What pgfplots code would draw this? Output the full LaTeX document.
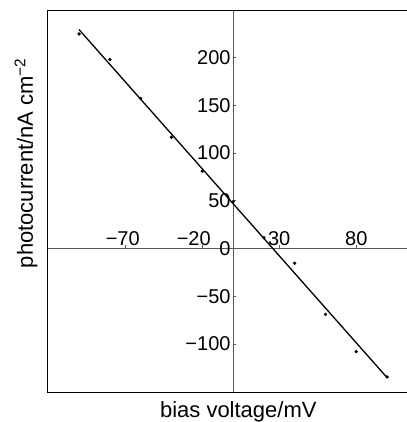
\documentclass[border=0pt]{standalone}
\usepackage{pgfplots}
\pgfplotsset{compat=1.18}
\usepackage{fontspec}
\setmainfont{Liberation Sans}

% measured photocurrent against bias voltage
\begin{document}
\begin{tikzpicture}[x=1pt,y=1pt]
\begin{axis}[
  at={(47pt,29.3pt)}, anchor=south west,
  scale only axis, width=361pt, height=382.7pt,
  xmin=-120.8, xmax=113.6, ymin=-151, ymax=249.7,
  axis lines=middle,
  axis line style={-, gray!70!black, line width=0.5pt},
  every inner x axis line/.append style={-},
  every inner y axis line/.append style={-},
  hide obscured x ticks=false, hide obscured y ticks=false,
  xtick={-70,-20,30,80},
  % the -20 label is set a little to the left, clear of the 0 on the y axis
  xticklabels={−70\rule{5pt}{0pt},−20\rule{17pt}{0pt},30,80},
  ytick={-100,-50,0,50,100,150,200},
  yticklabels={−100,−50,0,50,100,150,200},
  tick align=inside,
  major tick length=3pt,
  tick style={gray!70!black, line width=0.5pt},
  tick label style={font=\fontsize{20}{23}\selectfont},
  xticklabel style={anchor=south, yshift=-1pt},
  yticklabel style={anchor=east, xshift=1pt},
  xlabel={bias voltage/mV},
  ylabel={photocurrent/nA cm\textsuperscript{−2}},
  every axis x label/.style={at={(rel axis cs:0.53,0)}, anchor=north, yshift=-5pt, font=\fontsize{22}{25}\selectfont},
  every axis y label/.style={at={(rel axis cs:0,0.6)}, rotate=90, anchor=south, yshift=6pt, font=\fontsize{22}{25}\selectfont},
  clip=false,
]
% fitted straight line
\addplot[black, line width=1.3pt] coordinates {(-100,229.2) (100,-135.2)};
% measured points
\addplot[only marks, mark=*, mark size=1.5pt, black] coordinates {
  (-100,224.6) (-80,197.9) (-60,157) (-40,116.4) (-20,81)
  (0,48.9) (20,11.3) (40,-15.5) (60,-69) (80,-108) (100,-134.5)
};
% frame
\draw[black, line width=0.8pt] (rel axis cs:0,0) rectangle (rel axis cs:1,1);
\end{axis}
\pgfresetboundingbox
\useasboundingbox (0,0) rectangle (406,422);
\end{tikzpicture}
\end{document}
